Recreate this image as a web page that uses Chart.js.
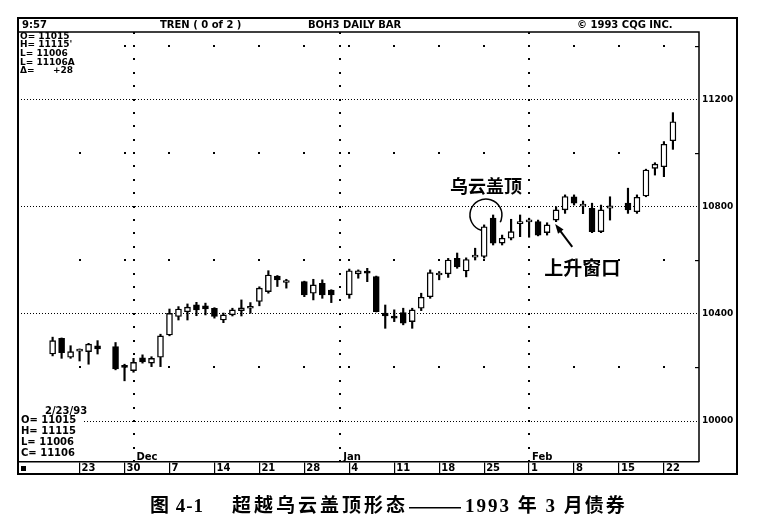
<!DOCTYPE html>
<html>
<head>
<meta charset="utf-8">
<script src="https://cdn.jsdelivr.net/npm/chart.js@4.4.0/dist/chart.umd.min.js"></script>
<style>
  html, body { margin: 0; padding: 0; background: #fff; }
</style>
</head>
<body>
<canvas id="c" width="771" height="532"></canvas>
<script>
// weekdays from Wed 11/18/92 to Tue 2/23/93 (null = no trading)
const START = 2; // weekday number of 11/18, counting Mon 11/16 as 0
const dates = [
  '11/18','11/19','11/20','11/23','11/24','11/25','11/26','11/27','11/30',
  '12/01','12/02','12/03','12/04','12/07','12/08','12/09','12/10','12/11',
  '12/14','12/15','12/16','12/17','12/18','12/21','12/22','12/23','12/24','12/25',
  '12/28','12/29','12/30','12/31','01/01','01/04','01/05','01/06','01/07','01/08',
  '01/11','01/12','01/13','01/14','01/15','01/18','01/19','01/20','01/21','01/22',
  '01/25','01/26','01/27','01/28','01/29','02/01','02/02','02/03','02/04','02/05',
  '02/08','02/09','02/10','02/11','02/12','02/15','02/16','02/17','02/18','02/19',
  '02/22','02/23'
];
const opens = [
  10250,10309,10238,10261,10259,10281,null,10278,10201,
  10188,10236,10216,10238,10321,10390,10408,10434,10430,
  10421,10377,10396,10412,10421,10446,10483,10541,10517,null,
  10520,10477,10514,10489,null,10471,10549,10555,10539,10403,
  10392,10405,10371,10421,10464,10545,10549,10607,10560,10612,
  10614,10757,10664,10682,10737,10743,10744,10703,10750,10788,
  10837,10802,10794,10707,10794,null,10813,10781,10840,10943,
  10949,11046
];
const highs = [
  10313,10310,10281,10269,10290,10300,null,10293,10212,
  10234,10247,10240,10324,10418,10427,10437,10443,10440,
  10423,10403,10421,10452,10442,10501,10561,10543,10529,null,
  10522,10529,10527,10490,null,10567,10564,10570,10541,10433,
  10415,10421,10421,10477,10564,10558,10607,10627,10609,10645,
  10732,10769,10694,10753,10769,10757,10750,10740,10800,10844,
  10844,10821,10813,10806,10837,null,10869,10844,10940,10964,
  11043,11151
];
const lows = [
  10243,10234,10234,10224,10212,10250,null,10191,10150,
  10182,10216,10203,10203,10318,10377,10377,10393,10396,
  10384,10367,10392,10392,10402,10430,10477,10502,10496,null,
  10464,10452,10458,10442,null,10458,10533,10520,10407,10346,
  10371,10359,10346,10412,10458,10527,10536,10570,10538,10601,
  10608,10657,10657,10676,10688,10686,10691,10694,10744,10775,
  10806,10774,10703,10703,10750,null,10775,10775,10837,10918,
  10912,11014
];
const closes = [
  10300,10255,10259,10263,10287,10269,null,10194,10200,
  10219,10221,10234,10318,10402,10418,10425,10415,10418,
  10390,10396,10415,10422,10427,10496,10545,10527,10518,null,
  10471,10508,10471,10471,null,10561,10561,10552,10408,10392,
  10384,10365,10415,10462,10554,10546,10601,10575,10603,10616,
  10725,10664,10682,10707,10739,10745,10694,10732,10788,10838,
  10813,10804,10707,10788,10803,null,10788,10835,10937,10959,
  11033,11117
];

// axes
const yTicks = [10000, 10400, 10800, 11200];
const minorLevels = [10200, 10600, 11000, 11400];
const weekTicks = [5, 10, 15, 20, 25, 30, 35, 40, 45, 50, 55, 60, 65, 70];
const weekLabels = ['23','30','7','14','21','28','4','11','18','25','1','8','15','22'];
const monthStarts = [11, 34, 55];
const monthLabels = ['Dec', 'Jan', 'Feb'];

// screen texts
const headerTexts = ['9:57', 'TREN ( 0 of 2 )', 'BOH3 DAILY BAR', '\u00a9 1993 CQG INC.'];
const topInfo = ['O= 11015', "H= 11115'", 'L= 11006', 'L= 11106A'];
const topDelta = ['\u0394=', '+28'];
const lastDate = '2/23/93';
const lastInfo = ['O= 11015', 'H= 11115', 'L= 11006', 'C= 11106'];
const noteCloud = '乌云盖顶';
const noteWindow = '上升窗口';
const captionParts = ['图 4-1', '超越乌云盖顶形态', '——', '1993 年 3 月债券'];

const FONT = "'DejaVu Sans', 'Liberation Sans', sans-serif";

const candles = [];
dates.forEach((d, i) => {
  if (opens[i] !== null) {
    candles.push({ x: i + START, o: opens[i], h: highs[i], l: lows[i], c: closes[i] });
  }
});

// grid dots, month lines, frame and labels
const decorPlugin = {
  id: 'decor',
  beforeDatasetsDraw(chart) {
    const ctx = chart.ctx, a = chart.chartArea;
    const xs = chart.scales.x, ys = chart.scales.y;
    ctx.save();
    ctx.fillStyle = '#000';
    minorLevels.forEach(v => {
      const yy = Math.round(ys.getPixelForValue(v));
      weekTicks.forEach(d => ctx.fillRect(Math.round(xs.getPixelForValue(d)) - 1, yy - 1, 2, 2));
      ctx.fillRect(a.right - 4, yy, 4, 1.2);
    });
    monthStarts.forEach(d => {
      const xx = Math.round(xs.getPixelForValue(d));
      for (let v = 9850; v <= 11450; v += 50) {
        ctx.fillRect(xx - 1, Math.round(ys.getPixelForValue(v)) - 1, 2, 2);
      }
    });
    ctx.restore();
  },
  afterDraw(chart) {
    const ctx = chart.ctx, a = chart.chartArea;
    const xs = chart.scales.x, ys = chart.scales.y;
    const outerRight = a.right + ys.width;
    const outerBottom = a.bottom + xs.height;
    const outerTop = a.top - 14;
    ctx.save();
    ctx.strokeStyle = '#000';
    ctx.fillStyle = '#000';

    // frame
    ctx.lineWidth = 2;
    ctx.beginPath();
    ctx.moveTo(a.left, outerTop); ctx.lineTo(outerRight, outerTop);
    ctx.lineTo(outerRight, outerBottom); ctx.lineTo(a.left, outerBottom);
    ctx.closePath();
    ctx.stroke();
    ctx.lineWidth = 1.5;
    ctx.beginPath();
    ctx.moveTo(a.left, a.top); ctx.lineTo(a.right, a.top); ctx.lineTo(a.right, a.bottom);
    ctx.stroke();

    // header
    ctx.font = 'bold 10px ' + FONT;
    ctx.textBaseline = 'middle';
    ctx.textAlign = 'left';
    const headX = [22, 160, 308, 577];
    headerTexts.forEach((t, i) => ctx.fillText(t, headX[i], outerTop + 7));

    // info blocks
    ctx.fillStyle = '#fff';
    ctx.fillRect(a.left + 1, a.top + 1, 64, 42);
    ctx.fillRect(a.left + 1, 403, 64, 57);
    ctx.fillStyle = '#000';
    ctx.font = 'bold 9px ' + FONT;
    topInfo.forEach((t, i) => ctx.fillText(t, a.left + 2, a.top + 4.5 + i * 8.6));
    ctx.fillText(topDelta[0], a.left + 2, a.top + 4.5 + 4 * 8.6);
    ctx.textAlign = 'right';
    ctx.fillText(topDelta[1], a.left + 55, a.top + 4.5 + 4 * 8.6);
    ctx.textAlign = 'left';
    ctx.font = 'bold 10px ' + FONT;
    ctx.fillText(lastDate, a.left + 27, 411);
    lastInfo.forEach((t, i) => ctx.fillText(t, a.left + 3, 420 + i * 11));
    ctx.fillRect(a.left + 3, outerBottom - 8, 5, 5);

    // month labels
    monthLabels.forEach((t, i) => ctx.fillText(t, xs.getPixelForValue(monthStarts[i]) + 3, a.bottom - 5));

    // annotations
    ctx.font = 'bold 18px "Noto Sans CJK SC", sans-serif';
    ctx.textAlign = 'center';
    ctx.fillText(noteCloud, xs.getPixelForValue(50.2), ys.getPixelForValue(10877));
    ctx.lineWidth = 1.5;
    ctx.beginPath();
    ctx.arc(xs.getPixelForValue(50.2), ys.getPixelForValue(10769), 16, 107 * Math.PI / 180, 387 * Math.PI / 180);
    ctx.stroke();
    ctx.font = 'bold 19px "Noto Sans CJK SC", sans-serif';
    ctx.fillText(noteWindow, xs.getPixelForValue(60.9), ys.getPixelForValue(10571));
    const tx = xs.getPixelForValue(59.8), ty = ys.getPixelForValue(10650);
    const hx = xs.getPixelForValue(57.9), hy = ys.getPixelForValue(10735);
    const ang = Math.atan2(hy - ty, hx - tx);
    ctx.lineWidth = 2;
    ctx.beginPath(); ctx.moveTo(tx, ty); ctx.lineTo(hx - 5 * Math.cos(ang), hy - 5 * Math.sin(ang)); ctx.stroke();
    ctx.beginPath();
    ctx.moveTo(hx, hy);
    ctx.lineTo(hx - 10 * Math.cos(ang - 0.35), hy - 10 * Math.sin(ang - 0.35));
    ctx.lineTo(hx - 10 * Math.cos(ang + 0.35), hy - 10 * Math.sin(ang + 0.35));
    ctx.closePath(); ctx.fill();

    // caption, set piece by piece
    ctx.textAlign = 'left';
    ctx.font = '600 19px "Liberation Serif", "Noto Sans CJK SC", serif';
    ctx.letterSpacing = '1px';
    ctx.fillText(captionParts[0], 150, 507);
    ctx.letterSpacing = '3px';
    let cx = 232;
    ctx.fillText(captionParts[1], cx, 507);
    cx += ctx.measureText(captionParts[1]).width;
    ctx.fillRect(cx + 1, 507, 52, 1.5);
    cx += 57;
    ctx.letterSpacing = '2px';
    ctx.fillText(captionParts[3], cx, 507);
    ctx.letterSpacing = '0px';
    ctx.restore();
  }
};

new Chart(document.getElementById('c'), {
  type: 'bar',
  data: {
    datasets: [{
      label: 'body',
      data: candles.map(k => ({ x: k.x, y: [k.o, k.c] })),
      backgroundColor: candles.map(k => k.c >= k.o ? '#fff' : '#000'),
      borderColor: '#000',
      borderWidth: 1.4,
      borderSkipped: false,
      barThickness: 6,
      minBarLength: 2
    }, {
      label: 'wick',
      data: candles.map(k => ({ x: k.x, y: [k.l, k.h] })),
      backgroundColor: '#000',
      borderWidth: 0,
      barThickness: 1.5
    }]
  },
  options: {
    responsive: false,
    animation: false,
    events: [],
    layout: { padding: { left: 18, top: 32, right: 34, bottom: 58 } },
    datasets: { bar: { grouped: false } },
    plugins: { legend: { display: false }, tooltip: { enabled: false } },
    scales: {
      x: {
        type: 'linear',
        position: 'bottom',
        min: -1.85,
        max: 73.9,
        offset: false,
        afterBuildTicks: s => { s.ticks = weekTicks.map(v => ({ value: v })); },
        afterFit: s => { s.height = 12; },
        grid: { offset: false, drawOnChartArea: false, drawTicks: true, tickLength: 12, color: '#000', lineWidth: 1.2 },
        border: { display: true, color: '#000', width: 1.5 },
        ticks: {
          autoSkip: false, maxRotation: 0, minRotation: 0,
          align: 'start', labelOffset: 2, padding: -12,
          color: '#000', font: { family: FONT, size: 10, weight: 'bold' },
          callback: (v, i) => weekLabels[i]
        }
      },
      y: {
        type: 'linear',
        position: 'right',
        min: 9847,
        max: 11452,
        afterBuildTicks: s => { s.ticks = yTicks.map(v => ({ value: v })); },
        afterFit: s => { s.width = 38; },
        grid: { drawTicks: false, color: '#000', lineWidth: 1 },
        border: { display: false, dash: [1, 2] },
        ticks: {
          padding: 3, color: '#000',
          font: { family: FONT, size: 9, weight: 'bold' },
          callback: v => String(v)
        }
      }
    }
  },
  plugins: [decorPlugin]
});
</script>
</body>
</html>
